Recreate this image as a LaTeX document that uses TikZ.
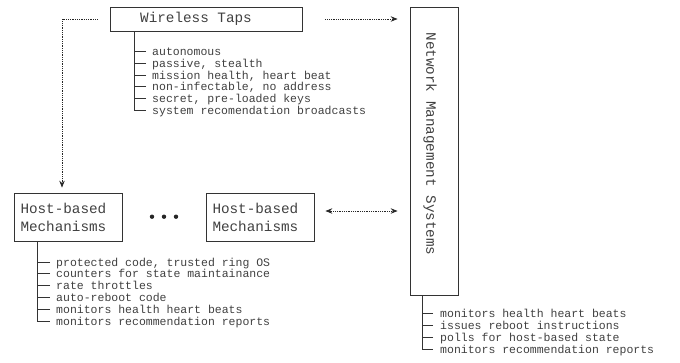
\documentclass[tikz,border=0pt]{standalone}
\usepackage{fontspec}
\setmonofont{Liberation Mono}
\usetikzlibrary{arrows.meta}
\begin{document}
\begin{tikzpicture}[x=1pt,y=-1pt,
  box/.style={draw=black!80, line width=0.8pt, inner sep=0pt},
  bigtxt/.style={font=\ttfamily\fontsize{14.3}{18}\selectfont, text=black!75, inner sep=0pt},
  item/.style={font=\ttfamily\fontsize{11.5}{12}\selectfont, text=black!75, inner sep=0pt, anchor=base west},
  tree/.style={draw=black!80, line width=0.8pt},
  tip/.style={},
  dotarr/.style={draw=black!85, line width=0.8pt, densely dotted, -{Stealth[length=7pt,width=5.5pt,inset=2.5pt]}},
  dotboth/.style={draw=black!85, line width=0.8pt, densely dotted, {Stealth[length=7pt,width=5.5pt,inset=2.5pt]}-{Stealth[length=7pt,width=5.5pt,inset=2.5pt]}}
]
\useasboundingbox (0,0) rectangle (680,362);

% boxes
\node[box, minimum width=192pt, minimum height=24pt] (wt) at (206,19) {};
\node[bigtxt] (wtl) at (196,19) {Wireless Taps};
\node[box, bigtxt, draw=black!80, line width=0.8pt, minimum width=108pt, minimum height=48pt, text width=95pt, align=left, inner xsep=6.5pt] (h1) at (68,217) {Host-based\\Mechanisms};
\node[box, bigtxt, draw=black!80, line width=0.8pt, minimum width=108pt, minimum height=48pt, text width=95pt, align=left, inner xsep=6.5pt] (h2) at (260,217) {Host-based\\Mechanisms};
\node[box, minimum width=48pt, minimum height=288pt] (nms) at (434,151) {};
\node[bigtxt, rotate=-90] (nmsl) at (430,144) {Network Management Systems};

% dots
\fill[black!85] (152,216.7) circle (2.2) (164,216.7) circle (2.2) (176,216.7) circle (2.2);

% connectors
\coordinate (c1) at (62,19);
\draw[dotarr, shorten <=12pt, shorten >=5pt] (wt.west) -| (h1.north -| c1);
\draw[dotarr, shorten <=23pt, shorten >=12pt] (wt.east) -- (wt.east -| nms.west);
\draw[dotboth, shorten <=11pt, shorten >=12pt] ([yshift=6pt]h2.east) -- ([yshift=6pt]h2.east -| nms.west);

% wireless list
\node[item] (w1) at (152,55.7) {autonomous};
\node[item] (w2) at (152,67.4) {passive, stealth};
\node[item] (w3) at (152,79.0) {mission health, heart beat};
\node[item] (w4) at (152,90.7) {non-infectable, no address};
\node[item] (w5) at (152,102.4) {secret, pre-loaded keys};
\node[item] (w6) at (152,114.0) {system recomendation broadcasts};
\coordinate (wx) at (134,0);
\draw[tree] (wt.south -| wx) |- ([xshift=-6pt,yshift=4pt]w6.base west);
\foreach \n in {w1,w2,w3,w4,w5}
  \draw[tree] ([xshift=-6pt,yshift=4pt]\n.base west) -- ++(-12,0);

% host list
\node[item] (p1) at (56,266.0) {protected code, trusted ring OS};
\node[item] (p2) at (56,277.8) {counters for state maintainance};
\node[item] (p3) at (56,289.6) {rate throttles};
\node[item] (p4) at (56,301.4) {auto-reboot code};
\node[item] (p5) at (56,313.2) {monitors health heart beats};
\node[item] (p6) at (56,325.0) {monitors recommendation reports};
\coordinate (px) at (37,0);
\draw[tree] (h1.south -| px) |- ([xshift=-6pt,yshift=4pt]p6.base west);
\foreach \n in {p1,p2,p3,p4,p5}
  \draw[tree] ([xshift=-6pt,yshift=4pt]\n.base west) -- ++(-13,0);

% nms list
\node[item] (n1) at (440,317.3) {monitors health heart beats};
\node[item] (n2) at (440,329.3) {issues reboot instructions};
\node[item] (n3) at (440,341.3) {polls for host-based state};
\node[item] (n4) at (440,353.3) {monitors recommendation reports};
\coordinate (nx) at (422,0);
\draw[tree] (nms.south -| nx) |- ([xshift=-7pt,yshift=4pt]n4.base west);
\foreach \n in {n1,n2,n3}
  \draw[tree] ([xshift=-7pt,yshift=4pt]\n.base west) -- ++(-11,0);
\end{tikzpicture}
\end{document}
